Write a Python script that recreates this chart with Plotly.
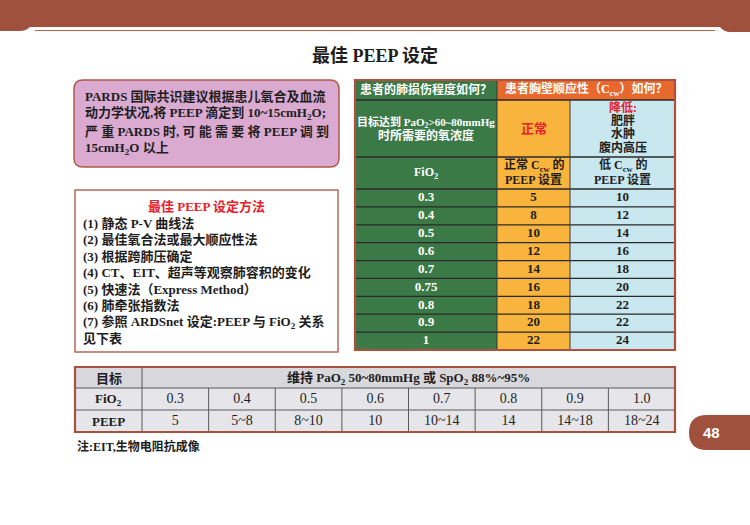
import plotly.graph_objects as go

# ---------------------------------------------------------------
# data
# ---------------------------------------------------------------
fio2_steps = ["0.3", "0.4", "0.5", "0.6", "0.7", "0.75", "0.8", "0.9", "1"]
peep_normal_ccw = [5, 8, 10, 12, 14, 16, 18, 20, 22]
peep_low_ccw = [10, 12, 14, 16, 18, 20, 22, 22, 24]

ards_fio2 = ["0.3", "0.4", "0.5", "0.6", "0.7", "0.8", "0.9", "1.0"]
ards_peep = ["5", "5~8", "8~10", "10", "10~14", "14", "14~18", "18~24"]

intro_lines = [
    "PARDS 国际共识建议根据患儿氧合及血流",
    "动力学状况,将 PEEP 滴定到 10~15cmH<sub>2</sub>O;",
    "严 重 PARDS 时, 可 能 需 要 将 PEEP 调 到",
    "15cmH<sub>2</sub>O 以上",
]
method_title = "最佳 PEEP 设定方法"
method_lines = [
    "(1) 静态 P-V 曲线法",
    "(2) 最佳氧合法或最大顺应性法",
    "(3) 根据跨肺压确定",
    "(4) CT、EIT、超声等观察肺容积的变化",
    "(5) 快速法（Express Method）",
    "(6) 肺牵张指数法",
    "(7) 参照 ARDSnet 设定:PEEP 与 FiO<sub>2</sub> 关系",
    "见下表",
]
low_ccw_causes = ["肥胖", "水肿", "腹内高压"]

# ---------------------------------------------------------------
# styles
# ---------------------------------------------------------------
SERIF = "Liberation Serif, Noto Sans CJK SC, serif"
SANS = "Liberation Sans, Arial, sans-serif"
BROWN = "#A0513E"
BORDER = "#B0503C"
GREEN = "#3B7A47"
HEAD_ORANGE = "#E8692D"
YELLOW = "#F8B43C"
BLUE = "#C9E7EE"
RED = "#E8202A"
PINK = "#DAAAD1"
GRAY_HEAD = "#D8D8DC"
GRAY_CELL = "#E6E6EA"
INK = "#1E1E1E"

fig = go.Figure()
shapes = []
annos = []


def rect(x0, y0, x1, y1, fill, line=None, width=0, layer="below"):
    shapes.append(dict(type="rect", xref="x", yref="y", x0=x0, y0=y0, x1=x1, y1=y1,
                       fillcolor=fill, layer=layer,
                       line=dict(color=line or fill, width=width)))


def hline(x0, x1, y, color, width=1.0):
    shapes.append(dict(type="line", xref="x", yref="y", x0=x0, x1=x1, y0=y, y1=y,
                       layer="below", line=dict(color=color, width=width)))


def vline(x, y0, y1, color, width=1.0):
    shapes.append(dict(type="line", xref="x", yref="y", x0=x, x1=x, y0=y0, y1=y1,
                       layer="below", line=dict(color=color, width=width)))


def text(x, y, s, size=13, color=INK, bold=True, anchor="center", family=SERIF):
    annos.append(dict(x=x, y=y, xref="x", yref="y", text=s, showarrow=False,
                      xanchor=anchor, yanchor="middle",
                      font=dict(family=family, size=size, color=color,
                                weight="bold" if bold else "normal")))


def rounded(x0, y0, x1, y1, r):
    return (f"M{x0+r},{y0} L{x1-r},{y0} Q{x1},{y0} {x1},{y0+r} "
            f"L{x1},{y1-r} Q{x1},{y1} {x1-r},{y1} L{x0+r},{y1} "
            f"Q{x0},{y1} {x0},{y1-r} L{x0},{y0+r} Q{x0},{y0} {x0+r},{y0} Z")


#-------------------------------------------
# page frame: top band, rule, page number
shapes.append(dict(type="path", xref="x", yref="y", layer="below",
                   path="M0,0 L750,0 L750,32 L730,32 Q724,32 720,27 L30,27 "
                        "Q26,31 20,31 L0,31 Z",
                   fillcolor=BROWN, line=dict(width=0)))
hline(35, 715, 30.5, "#B8604A", 1.2)
shapes.append(dict(type="path", xref="x", yref="y", layer="below",
                   path="M751,415 L707,415 Q689,415 689,432.5 Q689,450 707,450 L751,450 Z",
                   fillcolor=BROWN, line=dict(width=0)))
text(711, 432, "48", size=15, color="white", family=SANS)

# title
text(375, 55, "最佳 PEEP 设定", size=18)

#-------------------------------------------
# intro box (pink)
shapes.append(dict(type="path", xref="x", yref="y", layer="below",
                   path=rounded(74, 80, 339, 167, 9),
                   fillcolor=PINK, line=dict(color="#B05A4C", width=1.5)))
for i, s in enumerate(intro_lines):
    text(83, 96 + i * 17.5, s, size=13, anchor="left")

#-------------------------------------------
# methods box
rect(75, 190, 338, 352, "white", line="#B06A5C", width=1.5)
text(206.5, 206, method_title, size=13, color=RED)
for i, s in enumerate(method_lines):
    text(81, 223 + i * 16.5, s, size=13, anchor="left")

#-------------------------------------------
# right table
cx = [355, 497, 570, 675]     # column edges
top, h1, h2, h3 = 80, 100, 157, 189
bottom = 350
row_h = (bottom - h3) / len(fio2_steps)

rect(cx[0], top, cx[1], bottom, GREEN)
rect(cx[1], top, cx[3], h1, HEAD_ORANGE)
rect(cx[1], h1, cx[2], bottom, YELLOW)
rect(cx[2], h1, cx[3], bottom, BLUE)

for y in [h1, h2, h3] + [h3 + row_h * (i + 1) for i in range(len(fio2_steps) - 1)]:
    hline(cx[0], cx[3], y, "#2A2A2A", 1.3)
vline(cx[1], top, bottom, "#3A3A3A", 1)
vline(cx[2], h1, bottom, "#3A3A3A", 1)
rect(cx[0], top, cx[3], bottom, "rgba(0,0,0,0)", line=BORDER, width=2.2, layer="above")

text((cx[0] + cx[1]) / 2, 89.5, "患者的肺损伤程度如何？", size=12, color="white")
text((cx[1] + cx[3]) / 2, 89.5, "患者胸壁顺应性（C<sub>cw</sub>）如何？", size=12, color="white")
text((cx[0] + cx[1]) / 2, 122, "目标达到 PaO<sub>2</sub>>60~80mmHg", size=11, color="white")
text((cx[0] + cx[1]) / 2, 135, "时所需要的氧浓度", size=12, color="white")
text((cx[1] + cx[2]) / 2, 128, "正常", size=13, color=RED)
text((cx[2] + cx[3]) / 2, 107.5, "降低:", size=12, color=RED)
for i, s in enumerate(low_ccw_causes):
    text((cx[2] + cx[3]) / 2, 120.5 + i * 13.3, s, size=12)
text((cx[0] + cx[1]) / 2, 173, "FiO<sub>2</sub>", size=12, color="white")
text((cx[1] + cx[2]) / 2, 165, "正常 C<sub>cw</sub> 的", size=12)
text((cx[1] + cx[2]) / 2, 180, "PEEP 设置", size=12)
text((cx[2] + cx[3]) / 2, 165, "低 C<sub>cw</sub> 的", size=12)
text((cx[2] + cx[3]) / 2, 180, "PEEP 设置", size=12)

row_mid = [h3 + row_h * (i + 0.5) for i in range(len(fio2_steps))]
fig.add_trace(go.Scatter(x=[(cx[0] + cx[1]) / 2] * len(fio2_steps), y=row_mid,
                         mode="text", text=fio2_steps, hoverinfo="skip",
                         textfont=dict(family=SERIF, size=13, color="white", weight="bold")))
fig.add_trace(go.Scatter(x=[(cx[1] + cx[2]) / 2] * len(peep_normal_ccw), y=row_mid,
                         mode="text", text=[str(v) for v in peep_normal_ccw], hoverinfo="skip",
                         textfont=dict(family=SERIF, size=13, color=INK, weight="bold")))
fig.add_trace(go.Scatter(x=[(cx[2] + cx[3]) / 2] * len(peep_low_ccw), y=row_mid,
                         mode="text", text=[str(v) for v in peep_low_ccw], hoverinfo="skip",
                         textfont=dict(family=SERIF, size=13, color=INK, weight="bold")))

#-------------------------------------------
# bottom ARDSnet table
bx0, bx_first, bx1 = 75, 142, 675
by = [367, 388, 410, 432]
col_w = (bx1 - bx_first) / len(ards_fio2)

rect(bx0, by[0], bx1, by[1], GRAY_HEAD)
rect(bx0, by[1], bx1, by[3], GRAY_CELL)
hline(bx0, bx1, by[1], "#5A5A5A", 1)
hline(bx0, bx1, by[2], "#5A5A5A", 1)
vline(bx_first, by[0], by[3], "#5A5A5A", 1)
for i in range(1, len(ards_fio2)):
    vline(bx_first + col_w * i, by[1], by[3], "#5A5A5A", 1)
rect(bx0, by[0], bx1, by[3], "rgba(0,0,0,0)", line="#A5533F", width=2.2, layer="above")

text((bx0 + bx_first) / 2, 378, "目标", size=13)
text((bx_first + bx1) / 2, 378, "维持 PaO<sub>2</sub> 50~80mmHg 或 SpO<sub>2</sub> 88%~95%", size=13)
text((bx0 + bx_first) / 2, 399, "FiO<sub>2</sub>", size=13)
text((bx0 + bx_first) / 2, 421, "PEEP", size=13)

col_mid = [bx_first + col_w * (i + 0.5) for i in range(len(ards_fio2))]
fig.add_trace(go.Scatter(x=col_mid, y=[399] * len(ards_fio2), mode="text",
                         text=ards_fio2, hoverinfo="skip",
                         textfont=dict(family=SERIF, size=14, color=INK)))
fig.add_trace(go.Scatter(x=col_mid, y=[421] * len(ards_peep), mode="text",
                         text=ards_peep, hoverinfo="skip",
                         textfont=dict(family=SERIF, size=14, color=INK)))

text(75, 446, "注:EIT,生物电阻抗成像", size=12, anchor="left")

#-------------------------------------------
fig.update_layout(
    width=750, height=525, autosize=False,
    margin=dict(l=0, r=0, t=0, b=0),
    paper_bgcolor="white", plot_bgcolor="white",
    showlegend=False,
    shapes=shapes, annotations=annos,
    xaxis=dict(range=[0, 750], visible=False, fixedrange=True),
    yaxis=dict(range=[525, 0], visible=False, fixedrange=True),
)

fig.write_html("out.html", config={"displayModeBar": False},
               post_script="document.body.style.margin='0';")
